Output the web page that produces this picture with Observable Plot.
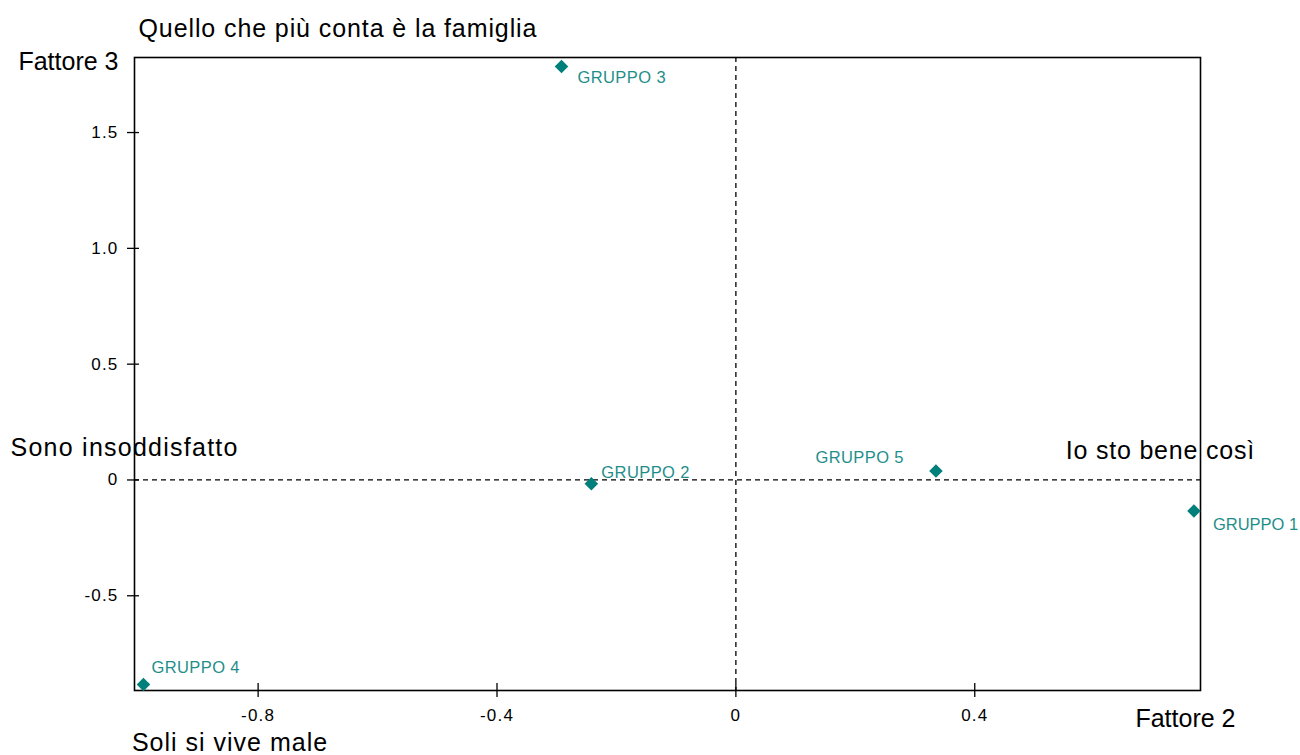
<!DOCTYPE html>
<html>
<head>
<meta charset="utf-8">
<script src="https://cdn.jsdelivr.net/npm/d3@7"></script>
<script src="https://cdn.jsdelivr.net/npm/@observablehq/plot@0.6"></script>
<style>
  html, body { margin: 0; padding: 0; background: #fff; }
  #chart svg { display: block; }
</style>
</head>
<body>
<div id="chart"></div>
<script>
// ---- data ----
const groups = ["GRUPPO 1", "GRUPPO 2", "GRUPPO 3", "GRUPPO 4", "GRUPPO 5"];
const fattore2 = [0.767, -0.242, -0.292, -0.992, 0.335];
const fattore3 = [-0.134, -0.016, 1.785, -0.883, 0.039];

const xTicks = [-0.8, -0.4, 0, 0.4];
const xTickLabels = ["-0.8", "-0.4", "0", "0.4"];
const yTicks = [-0.5, 0, 0.5, 1.0, 1.5];
const yTickLabels = ["-0.5", "0", "0.5", "1.0", "1.5"];

const titleText = "Quello che più conta è la famiglia";
const bottomText = "Soli si vive male";
const leftText = "Sono insoddisfatto";
const rightText = "Io sto bene così";
const xAxisName = "Fattore 2";
const yAxisName = "Fattore 3";

// ---- build table ----
const points = groups.map((g, i) => ({name: g, x: fattore2[i], y: fattore3[i]}));

const teal = "#007f7b";
const tealText = "#1f8e8a";
const bigFont = 25;

function groupLabel(name, dx, dy, anchor) {
  return Plot.text(points.filter(d => d.name === name), {
    x: "x", y: "y", text: "name", dx, dy, textAnchor: anchor,
    fill: tealText, fontSize: 16.5, lineAnchor: "middle"
  });
}

const chart = Plot.plot({
  width: 1300,
  height: 755,
  marginLeft: 134,
  marginRight: 100,
  marginTop: 57,
  marginBottom: 65,
  style: {fontFamily: "'Liberation Sans', Arial, sans-serif", background: "#fff", color: "#000", overflow: "visible"},
  x: {domain: [-1.007, 0.778]},
  y: {domain: [-0.909, 1.824]},
  marks: [
    Plot.ruleX([0], {stroke: "#000", strokeWidth: 1.3, strokeDasharray: "5,4"}),
    Plot.ruleY([0], {stroke: "#000", strokeWidth: 1.3, strokeDasharray: "5,4"}),
    Plot.frame({stroke: "#000", strokeWidth: 1.6}),
    Plot.axisX(xTicks, {
      label: null, tickSize: 14, dy: -7, tickPadding: 11, fontSize: 17,
      tickFormat: v => xTickLabels[xTicks.indexOf(v)], stroke: "#000", strokeWidth: 1.3
    }),
    Plot.axisY(yTicks, {
      label: null, tickSize: 12, dx: 5, tickPadding: 9, fontSize: 17,
      tickFormat: v => yTickLabels[yTicks.indexOf(v)], stroke: "#000", strokeWidth: 1.3
    }),
    Plot.dot(points, {x: "x", y: "y", symbol: "diamond2", r: 6.1, fill: teal, stroke: "none"}),
    groupLabel("GRUPPO 1", 19, 14, "start"),
    groupLabel("GRUPPO 2", 10, -11, "start"),
    groupLabel("GRUPPO 3", 16, 11, "start"),
    groupLabel("GRUPPO 4", 8, -17, "start"),
    groupLabel("GRUPPO 5", -32, -13, "end"),
    // pole / axis names
    Plot.text([titleText], {frameAnchor: "top-left", dx: 4, dy: -29, textAnchor: "start", lineAnchor: "middle", fontSize: bigFont, fill: "#000"}),
    Plot.text([yAxisName], {frameAnchor: "top-left", dx: -16, dy: 4, textAnchor: "end", lineAnchor: "middle", fontSize: bigFont, fill: "#000"}),
    Plot.text([xAxisName], {frameAnchor: "bottom-right", dx: 35, dy: 28, textAnchor: "end", lineAnchor: "middle", fontSize: bigFont, fill: "#000"}),
    Plot.text([bottomText], {frameAnchor: "bottom-left", dx: -2.6, dy: 52.5, textAnchor: "start", lineAnchor: "middle", fontSize: bigFont, fill: "#000"}),
    Plot.text([0], {y: d => d, text: () => leftText, frameAnchor: "left", dx: -124, dy: -32, textAnchor: "start", lineAnchor: "middle", fontSize: bigFont, fill: "#000"}),
    Plot.text([0], {y: d => d, text: () => rightText, frameAnchor: "right", dx: 54.5, dy: -29, textAnchor: "end", lineAnchor: "middle", fontSize: bigFont, fill: "#000"})
  ]
});

// widen the spacing to mimic the reference's bitmap font
const spacing = new Map([
  [titleText, 0.9], [leftText, 1.25], [rightText, 0.8], [bottomText, 1.0],
  ["GRUPPO 2", 0.4], ["GRUPPO 3", 0.4], ["GRUPPO 4", 0.4], ["GRUPPO 5", 0.4]
]);
d3.select(chart).selectAll("text").each(function () {
  const s = spacing.get(this.textContent);
  if (s) this.setAttribute("letter-spacing", s);
});
d3.select(chart).selectAll("g[aria-label='x-axis tick label'], g[aria-label='y-axis tick label']")
  .attr("letter-spacing", 1.2);

document.getElementById("chart").appendChild(chart);
</script>
</body>
</html>
